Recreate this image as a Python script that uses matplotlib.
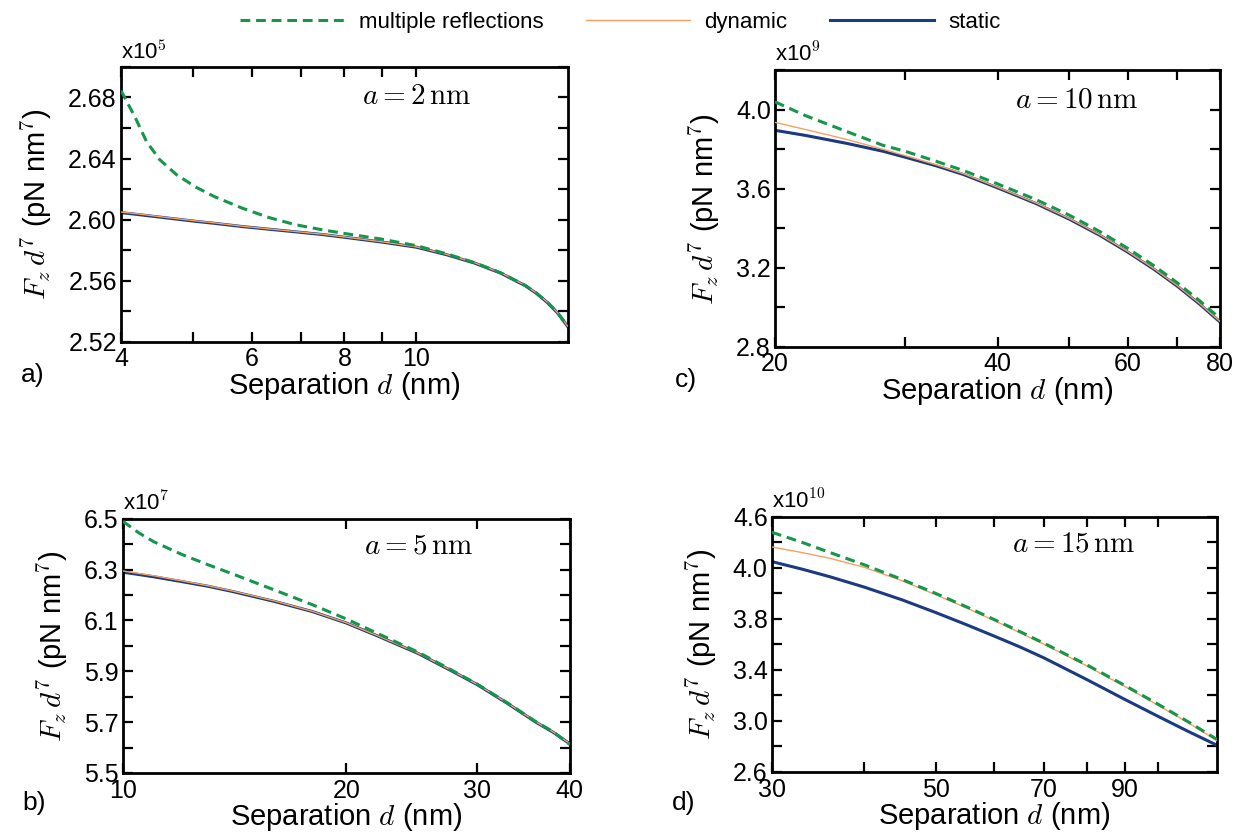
import matplotlib
matplotlib.use("Agg")
import matplotlib.pyplot as plt
from matplotlib.lines import Line2D
from matplotlib.ticker import FixedLocator, FixedFormatter, NullFormatter

plt.rcParams['font.family'] = ['Liberation Sans', 'DejaVu Sans']
plt.rcParams['mathtext.fontset'] = 'cm'

# panel a: a = 2 nm (x1e5)
d_a = [4, 4.18, 4.33, 4.51, 4.75, 5.05, 5.35, 5.83, 6.32, 6.86, 7.5, 8, 9, 10, 11, 12, 13, 14,
       14.5, 15, 15.5, 16]
static_a = [2.6046, 2.6036, 2.6027, 2.6017, 2.6004, 2.5989, 2.5976, 2.5955, 2.5938, 2.5921,
            2.5902, 2.5885, 2.5853, 2.5820, 2.5770, 2.5715, 2.5650, 2.5570, 2.5520, 2.5460,
            2.5390, 2.5300]
dynamic_a = [2.6050, 2.6040, 2.6031, 2.6020, 2.6007, 2.5992, 2.5979, 2.5957, 2.5940, 2.5923,
             2.5904, 2.5887, 2.5855, 2.5822, 2.5772, 2.5717, 2.5652, 2.5572, 2.5522, 2.5462,
             2.5392, 2.5302]
multi_a = [2.6845, 2.6669, 2.6511, 2.6393, 2.6295, 2.6212, 2.6150, 2.6075, 2.6015, 2.5968,
           2.5932, 2.5910, 2.5872, 2.5830, 2.5776, 2.5718, 2.5652, 2.5572, 2.5522, 2.5462,
           2.5392, 2.5302]

# panel b: a = 5 nm (x1e7)
d_b = [10, 10.5, 11, 12, 13, 14, 16, 18, 20, 22, 25, 28, 30, 33, 36, 38, 40]
static_b = [6.290, 6.281, 6.272, 6.253, 6.235, 6.215, 6.175, 6.135, 6.090, 6.040, 5.970, 5.895,
            5.848, 5.773, 5.700, 5.660, 5.615]
dynamic_b = [6.295, 6.285, 6.276, 6.256, 6.237, 6.217, 6.177, 6.136, 6.091, 6.041, 5.971, 5.896,
             5.849, 5.774, 5.701, 5.661, 5.616]
multi_b = [6.490, 6.445, 6.410, 6.360, 6.320, 6.285, 6.220, 6.162, 6.106, 6.050, 5.975, 5.898,
           5.850, 5.775, 5.702, 5.662, 5.612]

# panel c: a = 10 nm (x1e9)
d_c = [20, 22, 25, 28, 30, 33, 36, 40, 45, 50, 55, 60, 65, 70, 75, 80]
static_c = [3.896, 3.870, 3.830, 3.790, 3.760, 3.717, 3.672, 3.605, 3.527, 3.447, 3.365, 3.280,
            3.195, 3.108, 3.018, 2.926]
dynamic_c = [3.936, 3.900, 3.850, 3.800, 3.768, 3.722, 3.676, 3.608, 3.530, 3.450, 3.368, 3.283,
             3.198, 3.111, 3.021, 2.929]
multi_c = [4.040, 3.970, 3.890, 3.820, 3.790, 3.740, 3.692, 3.625, 3.547, 3.467, 3.384, 3.299,
           3.213, 3.125, 3.035, 2.944]

# panel d: a = 15 nm (x1e10), tick "4.0" sits where 4.2 would be
d_d = [30, 33, 36, 40, 45, 50, 55, 60, 65, 70, 80, 90, 100, 110, 120]
static_d = [4.250, 4.190, 4.130, 4.050, 3.950, 3.850, 3.755, 3.665, 3.580, 3.495, 3.325, 3.170,
            3.035, 2.915, 2.810]
dynamic_d = [4.365, 4.320, 4.275, 4.205, 4.100, 3.990, 3.887, 3.787, 3.692, 3.602, 3.432, 3.272,
             3.122, 2.982, 2.847]
multi_d = [4.480, 4.400, 4.320, 4.225, 4.110, 4.000, 3.895, 3.795, 3.700, 3.610, 3.440, 3.280,
           3.130, 2.990, 2.855]

panels = [
    dict(d=d_a, s=static_a, dy=dynamic_a, m=multi_a, xlim=(4, 16), ylim=(2.52, 2.70),
         xt=[4, 5, 6, 7, 8, 9, 10], xl=['4', '', '6', '', '8', '', '10'],
         yt=[2.52, 2.56, 2.60, 2.64, 2.68], yl=['2.52', '2.56', '2.60', '2.64', '2.68'],
         ym=[2.54, 2.58, 2.62, 2.66, 2.70], exp='5', a='2', tag='a)'),
    dict(d=d_b, s=static_b, dy=dynamic_b, m=multi_b, xlim=(10, 40), ylim=(5.5, 6.5),
         xt=[10, 20, 30, 40], xl=['10', '20', '30', '40'],
         yt=[5.5, 5.7, 5.9, 6.1, 6.3, 6.5], yl=['5.5', '5.7', '5.9', '6.1', '6.3', '6.5'],
         ym=[5.6, 5.8, 6.0, 6.2, 6.4], exp='7', a='5', tag='b)'),
    dict(d=d_c, s=static_c, dy=dynamic_c, m=multi_c, xlim=(20, 80), ylim=(2.8, 4.2),
         xt=[20, 30, 40, 50, 60, 70, 80], xl=['20', '', '40', '', '60', '', '80'],
         yt=[2.8, 3.2, 3.6, 4.0], yl=['2.8', '3.2', '3.6', '4.0'],
         ym=[3.0, 3.4, 3.8, 4.2], exp='9', a='10', tag='c)'),
    dict(d=d_d, s=static_d, dy=dynamic_d, m=multi_d, xlim=(30, 120), ylim=(2.6, 4.6),
         xt=[30, 40, 50, 60, 70, 80, 90, 100], xl=['30', '', '50', '', '70', '', '90', ''],
         yt=[2.6, 3.0, 3.4, 3.8, 4.2, 4.6], yl=['2.6', '3.0', '3.4', '3.8', '4.0', '4.6'],
         ym=[2.8, 3.2, 3.6, 4.0, 4.4], exp='10', a='15', tag='d)'),
]

positions = [
    [0.0975, 0.591, 0.360, 0.329],
    [0.0991, 0.0754, 0.360, 0.304],
    [0.6245, 0.585, 0.3586, 0.331],
    [0.622, 0.0766, 0.3586, 0.305],
]

green = '#15964a'
orange = '#f4a261'
navy = '#1b3a80'
dash = (0, (3.2, 1.9))

fig = plt.figure(figsize=(12.41, 8.36), dpi=100)

for p, pos in zip(panels, positions):
    ax = fig.add_axes(pos)
    ax.plot(p['d'], p['s'], color=navy, lw=2.2, zorder=2)
    ax.plot(p['d'], p['dy'], color=orange, lw=1.0, zorder=3)
    ax.plot(p['d'], p['m'], color=green, lw=2.2, ls=dash, zorder=4)
    ax.set_xscale('log')
    ax.set_xlim(*p['xlim'])
    ax.set_ylim(*p['ylim'])
    ax.xaxis.set_major_locator(FixedLocator(p['xt']))
    ax.xaxis.set_major_formatter(FixedFormatter(p['xl']))
    ax.xaxis.set_minor_locator(FixedLocator([]))
    ax.xaxis.set_minor_formatter(NullFormatter())
    ax.yaxis.set_major_locator(FixedLocator(p['yt']))
    ax.yaxis.set_major_formatter(FixedFormatter(p['yl']))
    ax.yaxis.set_minor_locator(FixedLocator(p['ym']))
    ax.tick_params(which='both', direction='in', top=True, right=True, labelsize=18,
                   width=1.6, length=7)
    ax.tick_params(axis='x', pad=4)
    ax.tick_params(axis='y', pad=3)
    for sp in ax.spines.values():
        sp.set_linewidth(2.0)
    ax.set_xlabel('Separation $d$ (nm)', fontsize=21, labelpad=-1)
    ax.set_ylabel('$F_z\\,d^7$ (pN nm$^7$)', fontsize=21, labelpad=10)
    ax.text(0.0, 1.012, 'x10$^{' + p['exp'] + '}$', transform=ax.transAxes, fontsize=16,
            ha='left', va='bottom')
    ax.text(0.54, 0.895, '$a = ' + p['a'] + '\\,\\mathrm{nm}$', transform=ax.transAxes,
            fontsize=21, ha='left', va='center')
    ax.text(-0.225, -0.12, p['tag'], transform=ax.transAxes, fontsize=19, ha='left',
            va='center')

handles = [
    Line2D([], [], color=green, lw=2.2, ls=dash),
    Line2D([], [], color=orange, lw=1.0),
    Line2D([], [], color=navy, lw=2.2),
]
fig.legend(handles, ['multiple reflections', 'dynamic', 'static'], loc='upper center',
           bbox_to_anchor=(0.5, 1.01), ncol=3, frameon=False, fontsize=16,
           handlelength=4.7, handletextpad=0.65, columnspacing=1.9)

fig.savefig('out.png', dpi=100)
